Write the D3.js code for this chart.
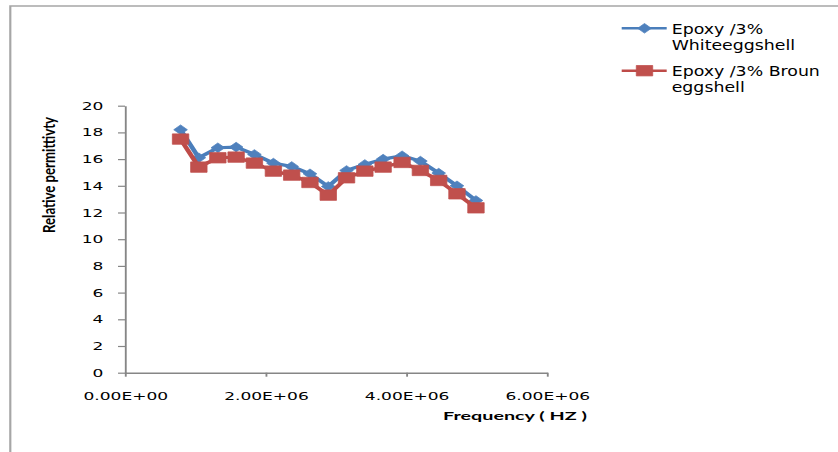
<!DOCTYPE html>
<html>
<head>
<meta charset="utf-8">
<script src="https://cdn.jsdelivr.net/npm/d3@7"></script>
<style>
  html, body { margin: 0; padding: 0; background: #fff; }
  svg { display: block; }
</style>
</head>
<body>
<svg id="chart" width="838" height="452"></svg>
<script>
// ---- data ----
const frequencies = [0.79e6, 1.05e6, 1.32e6, 1.58e6, 1.84e6, 2.11e6, 2.37e6, 2.63e6, 2.89e6,
                     3.15e6, 3.41e6, 3.67e6, 3.94e6, 4.20e6, 4.46e6, 4.72e6, 4.99e6];
const whiteValues = [18.2, 16.1, 16.85, 16.9, 16.35, 15.7, 15.45, 14.9, 13.95,
                     15.15, 15.6, 16.0, 16.25, 15.85, 14.95, 14.0, 12.9];
const brownValues = [17.5, 15.4, 16.1, 16.15, 15.7, 15.1, 14.8, 14.25, 13.3,
                     14.6, 15.1, 15.4, 15.75, 15.15, 14.4, 13.4, 12.35];
const seriesNames = [["Epoxy /3%", "Whiteeggshell"], ["Epoxy /3% Broun", "eggshell"]];
const xTickValues = [0, 2e6, 4e6, 6e6];
const xTickLabels = ["0.00E+00", "2.00E+06", "4.00E+06", "6.00E+06"];
const yTickValues = [0, 2, 4, 6, 8, 10, 12, 14, 16, 18, 20];
const xTitle = "Frequency ( HZ )";
const yTitle = "Relative permittivty";

// ---- layout ----
const sx = 1.55; // horizontal stretch of the original picture
const svg = d3.select("#chart");
svg.append("rect").attr("width", 838).attr("height", 452).attr("fill", "#fff");
const g = svg.append("g").attr("transform", `scale(${sx},1)`);

const x = d3.scaleLinear().domain([0, 6e6]).range([125 / sx, 547 / sx]);
const y = d3.scaleLinear().domain([0, 20]).range([372.7, 105.7]);

const font = "'DejaVu Sans', Verdana, sans-serif";
const axisColor = "#868686";

// outer chart border (top + left visible)
g.append("path")
  .attr("d", `M${10.3 / sx},460 V6 H${850 / sx}`)
  .attr("fill", "none")
  .attr("stroke", "#a6a6a6")
  .attr("stroke-width", 1.4);

// y axis
const yAxis = g.append("g")
  .attr("transform", `translate(${x(0)},0)`)
  .call(d3.axisLeft(y).tickValues(yTickValues).tickSize(4.5).tickSizeOuter(0).tickPadding(9.5));
yAxis.select(".domain").attr("stroke", axisColor).attr("stroke-width", 1.2);
yAxis.selectAll(".tick line").attr("stroke", axisColor).attr("stroke-width", 1.2);
yAxis.selectAll(".tick text")
  .attr("font-family", font).attr("font-size", 11).attr("fill", "#000");

// x axis
const xAxis = g.append("g")
  .attr("transform", `translate(0,${y(0)})`)
  .call(d3.axisBottom(x).tickValues(xTickValues)
        .tickFormat((d, i) => xTickLabels[i]).tickSize(4).tickSizeOuter(0));
xAxis.select(".domain").attr("stroke", axisColor).attr("stroke-width", 1.6);
xAxis.selectAll(".tick line").attr("stroke", axisColor).attr("stroke-width", 1.2);
xAxis.selectAll(".tick text")
  .attr("font-family", font).attr("font-size", 11).attr("fill", "#000")
  .attr("y", 27).attr("dy", 0);

// axis titles
g.append("text")
  .attr("x", 587 / sx).attr("y", 420)
  .attr("text-anchor", "end")
  .attr("font-family", "Lato, 'Open Sans', sans-serif")
  .attr("font-weight", "bold").attr("font-size", 11.5)
  .attr("textLength", 144 / sx).attr("lengthAdjust", "spacingAndGlyphs")
  .attr("fill", "#000")
  .text(xTitle);

g.append("text")
  .attr("transform", `translate(${55.5 / sx},175) rotate(-90)`)
  .attr("text-anchor", "middle")
  .attr("font-family", "Lato, 'Open Sans', sans-serif")
  .attr("font-weight", "bold").attr("font-size", 11.5)
  .attr("textLength", 116).attr("lengthAdjust", "spacingAndGlyphs")
  .attr("fill", "#000")
  .text(yTitle);

// markers
const diamond = (hw, hh) => `M0,${-hh} L${hw},0 L0,${hh} L${-hw},0 Z`;
const square = (hw, hh) => `M${-hw},${-hh} H${hw} V${hh} H${-hw} Z`;

const series = [
  { values: whiteValues, line: "#4A7EBB", fill: "#4F81BD", shape: diamond(4.4, 4.8) },
  { values: brownValues, line: "#BE4B48", fill: "#C0504D", shape: square(5.3, 5.2) }
];

const lineGen = d3.line().x((d, i) => x(frequencies[i])).y(d => y(d));

series.forEach(s => {
  g.append("path")
    .attr("d", lineGen(s.values))
    .attr("fill", "none")
    .attr("stroke", s.line)
    .attr("stroke-width", 3.2)
    .attr("stroke-linejoin", "round");
  g.selectAll(null).data(s.values).enter().append("path")
    .attr("transform", (d, i) => `translate(${x(frequencies[i])},${y(d)})`)
    .attr("d", s.shape)
    .attr("fill", s.fill)
    .attr("stroke", s.fill)
    .attr("stroke-width", 0.6);
});

// legend
const legendY = [28.3, 70.7];
const legendBaseline = [34, 75.7];
const legend = g.append("g");
series.forEach((s, k) => {
  const ly = legendY[k];
  legend.append("line")
    .attr("x1", 621.7 / sx).attr("x2", 666.7 / sx)
    .attr("y1", ly).attr("y2", ly)
    .attr("stroke", s.line).attr("stroke-width", 2.6);
  legend.append("path")
    .attr("transform", `translate(${644.5 / sx},${ly})`)
    .attr("d", s.shape)
    .attr("fill", s.fill).attr("stroke", s.fill).attr("stroke-width", 0.6);
  const t = legend.append("g")
    .attr("transform", `translate(${671.7 / sx},${legendBaseline[k]}) scale(0.8,1)`)
    .append("text")
    .attr("x", 0).attr("y", 0)
    .attr("font-family", font).attr("font-size", 14).attr("fill", "#000");
  seriesNames[k].forEach((line, j) => {
    t.append("tspan").attr("x", 0).attr("dy", j === 0 ? 0 : 16).text(line);
  });
});
</script>
</body>
</html>
